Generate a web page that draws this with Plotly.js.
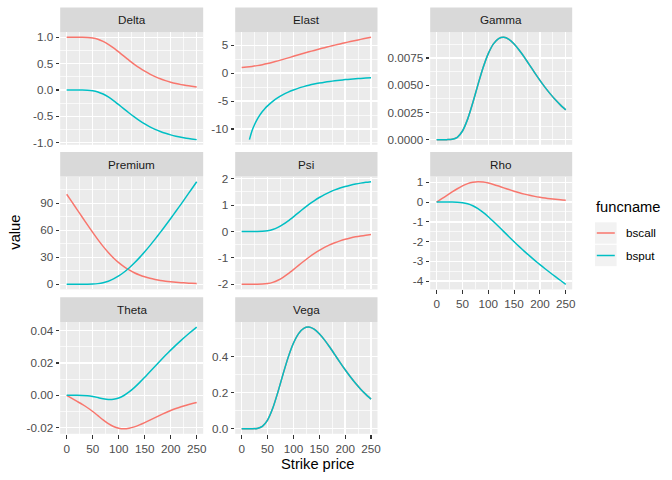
<!DOCTYPE html>
<html>
<head>
<meta charset="utf-8">
<script src="https://cdn.plot.ly/plotly-3.0.1.min.js"></script>
<style>html,body{margin:0;padding:0;background:#fff;}#chart{width:672px;height:480px;}</style>
</head>
<body>
<div id="chart"></div>
<script>
// ---------------- data ----------------
const strike = [0,10,20,30,40,50,60,70,80,90,100,110,120,130,140,150,160,170,180,190,200,210,220,230,240,250];
const seriesNames = ['bscall','bsput'];

const deltaCall = [1.0000,1.0000,1.0000,0.9997,0.9970,0.9869,0.9635,0.9236,0.8676,0.7989,0.7221,0.6423,0.5634,0.4884,0.4192,0.3570,0.3020,0.2542,0.2130,0.1778,0.1482,0.1232,0.1022,0.0847,0.0702,0.0582];
const deltaPut  = [0.0000,0.0000,0.0000,-0.0003,-0.0030,-0.0131,-0.0365,-0.0764,-0.1324,-0.2011,-0.2779,-0.3577,-0.4366,-0.5116,-0.5808,-0.6430,-0.6980,-0.7458,-0.7870,-0.8222,-0.8518,-0.8768,-0.8978,-0.9153,-0.9298,-0.9418];

const elastCall = [1.000,1.093,1.205,1.343,1.512,1.713,1.943,2.194,2.459,2.731,3.006,3.277,3.546,3.810,4.062,4.314,4.555,4.788,5.013,5.232,5.443,5.650,5.848,6.040,6.227,6.410];
const elastPutStrike = [15,20,25,30,35,40,45,50,60,70,80,90,100,110,120,130,140,150,160,170,180,190,200,210,220,230,240,250];
const elastPut = [-11.9,-10.32,-9.19,-8.28,-7.53,-6.88,-6.32,-5.85,-5.04,-4.38,-3.84,-3.39,-3.01,-2.68,-2.41,-2.17,-1.96,-1.78,-1.62,-1.49,-1.37,-1.26,-1.16,-1.08,-1.01,-0.94,-0.88,-0.83];

const gammaCall = [0,0.0000000,0.0000006,0.0000265,0.000215,0.000794,0.001884,0.003382,0.005051,0.006620,0.007902,0.008798,0.009283,0.009399,0.009208,0.008791,0.008218,0.007556,0.006849,0.006137,0.005449,0.004801,0.004202,0.003660,0.003172,0.002739];
const gammaPut  = [0,0.0000000,0.0000006,0.0000265,0.000215,0.000794,0.001884,0.003382,0.005051,0.006620,0.007902,0.008798,0.009283,0.009399,0.009208,0.008791,0.008218,0.007556,0.006849,0.006137,0.005449,0.004801,0.004202,0.003660,0.003172,0.002739];

const premiumCall = [100.00,91.48,82.96,74.44,65.96,57.62,49.60,42.09,35.28,29.25,24.02,19.60,15.89,12.82,10.32,8.28,6.63,5.31,4.25,3.40,2.72,2.18,1.75,1.40,1.13,0.91];
const premiumPut  = [0.00,0.00,0.00,0.00,0.04,0.22,0.72,1.74,3.45,5.94,9.24,13.33,18.14,23.60,29.61,36.10,42.97,50.17,57.63,65.31,73.15,81.13,89.12,97.40,105.64,113.94];

const psiCall = [-2.0000,-2.0000,-2.0000,-1.9994,-1.9940,-1.9738,-1.9270,-1.8473,-1.7352,-1.5977,-1.4443,-1.2846,-1.1267,-0.9767,-0.8385,-0.7140,-0.6041,-0.5083,-0.4259,-0.3557,-0.2963,-0.2462,-0.2044,-0.1695,-0.1404,-0.1163];
const psiPut  = [0.0000,0.0000,0.0000,0.0006,0.0060,0.0262,0.0730,0.1527,0.2648,0.4023,0.5557,0.7154,0.8733,1.0233,1.1615,1.2860,1.3959,1.4917,1.5741,1.6443,1.7037,1.7538,1.7956,1.8305,1.8596,1.8837];

const rhoCall = [0,0.1704,0.3408,0.5106,0.6748,0.8214,0.9351,1.0054,1.0297,1.0128,0.9637,0.8927,0.8091,0.7203,0.6321,0.5484,0.4714,0.4022,0.3410,0.2877,0.2419,0.2027,0.1694,0.1414,0.1178,0.0982];
const rhoPut  = [0,0.0000,0.0000,-0.0007,-0.0068,-0.0307,-0.0874,-0.1875,-0.3337,-0.5210,-0.7405,-0.9819,-1.2359,-1.4952,-1.7538,-2.0079,-2.2553,-2.4949,-2.7266,-2.9503,-3.1665,-3.3761,-3.5798,-3.7783,-3.9723,-4.1623];

const thetaCall = [0,-0.001868,-0.003735,-0.005628,-0.007660,-0.009981,-0.012571,-0.015188,-0.017511,-0.019262,-0.020305,-0.020631,-0.020313,-0.019482,-0.018281,-0.016850,-0.015300,-0.013724,-0.012182,-0.010720,-0.009370,-0.008141,-0.007038,-0.006063,-0.005203,-0.004453];
const thetaPut  = [0,0.000000,0.000000,-0.000025,-0.000190,-0.000643,-0.001365,-0.002115,-0.002570,-0.002454,-0.001629,-0.000087,0.002098,0.004797,0.007865,0.011164,0.014582,0.018025,0.021435,0.024764,0.027982,0.031079,0.034049,0.036892,0.039619,0.042237];

const vegaCall = [0,0.0000,0.00004,0.00159,0.01288,0.04767,0.1131,0.2029,0.3031,0.3973,0.4742,0.5279,0.5571,0.5640,0.5525,0.5275,0.4931,0.4534,0.4110,0.3683,0.3270,0.2881,0.2522,0.2196,0.1904,0.1643];
const vegaPut  = [0,0.0000,0.00004,0.00159,0.01288,0.04767,0.1131,0.2029,0.3031,0.3973,0.4742,0.5279,0.5571,0.5640,0.5525,0.5275,0.4931,0.4534,0.4110,0.3683,0.3270,0.2881,0.2522,0.2196,0.1904,0.1643];

// tick labels
const strikeTicks  = [0,50,100,150,200,250];
const deltaTicks   = [-1,-0.5,0,0.5,1];
const elastTicks   = [-10,-5,0,5];
const gammaTicks   = [0,0.0025,0.005,0.0075];
const premiumTicks = [0,30,60,90];
const psiTicks     = [-2,-1,0,1,2];
const rhoTicks     = [-4,-3,-2,-1,0,1];
const thetaTicks   = [-0.02,0,0.02,0.04];
const vegaTicks    = [0,0.2,0.4];

// ---------------- styling / layout ----------------
const W = 672, H = 480;
const COLORS = ['#F8766D','#00BFC4'];
const FONT = 'Liberation Sans, Arial, Helvetica, sans-serif';
const cols = [[60.2,203.2],[235.2,377.5],[430.2,572.2]];
const rows = [[32.2,144.75],[176.6,289.4],[322.0,433.8]];
const STRIP_H = 24.7;
const fx = p => p / W;
const fy = p => 1 - p / H;

const panels = [
  {name:'Delta',   r:0, c:0, data:[[strike,deltaCall],[strike,deltaPut]],         ticks:deltaTicks,   dec:1, xlab:false},
  {name:'Elast',   r:0, c:1, data:[[strike,elastCall],[elastPutStrike,elastPut]], ticks:elastTicks,   dec:0, xlab:false},
  {name:'Gamma',   r:0, c:2, data:[[strike,gammaCall],[strike,gammaPut]],         ticks:gammaTicks,   dec:4, xlab:false},
  {name:'Premium', r:1, c:0, data:[[strike,premiumCall],[strike,premiumPut]],     ticks:premiumTicks, dec:0, xlab:false},
  {name:'Psi',     r:1, c:1, data:[[strike,psiCall],[strike,psiPut]],             ticks:psiTicks,     dec:0, xlab:false},
  {name:'Rho',     r:1, c:2, data:[[strike,rhoCall],[strike,rhoPut]],             ticks:rhoTicks,     dec:0, xlab:true},
  {name:'Theta',   r:2, c:0, data:[[strike,thetaCall],[strike,thetaPut]],         ticks:thetaTicks,   dec:2, xlab:true},
  {name:'Vega',    r:2, c:1, data:[[strike,vegaCall],[strike,vegaPut]],           ticks:vegaTicks,    dec:1, xlab:true}
];

function minorOf(t) {
  const step = t[1] - t[0];
  const out = [t[0] - step/2];
  for (let i = 0; i < t.length - 1; i++) out.push((t[i] + t[i+1]) / 2);
  out.push(t[t.length-1] + step/2);
  return out;
}
function expand(vals) {
  const mn = Math.min(...vals), mx = Math.max(...vals);
  const pad = (mx - mn) * 0.05;
  return [mn - pad, mx + pad];
}

const xr = expand(strike);
const traces = [];
const layout = {
  width: W, height: H,
  margin: {l:0, r:0, t:0, b:0, pad:0},
  paper_bgcolor: '#FFFFFF',
  plot_bgcolor: '#EBEBEB',
  showlegend: false,
  font: {family: FONT, color: '#4D4D4D', size: 11.7},
  shapes: [], annotations: []
};

panels.forEach((p, i) => {
  const n = i + 1;
  const xid = 'x' + (n === 1 ? '' : n), yid = 'y' + (n === 1 ? '' : n);
  const xk = 'xaxis' + (n === 1 ? '' : n), yk = 'yaxis' + (n === 1 ? '' : n);
  const allY = [];
  p.data.forEach((s, k) => {
    allY.push(...s[1]);
    traces.push({
      x: s[0], y: s[1], type: 'scatter', mode: 'lines', name: seriesNames[k],
      xaxis: xid, yaxis: yid, hoverinfo: 'skip',
      line: {color: COLORS[k], width: 1.5, shape: 'spline', smoothing: 0.6}
    });
  });
  const col = cols[p.c], row = rows[p.r];
  layout[xk] = {
    domain: [fx(col[0]), fx(col[1])], anchor: yid, range: xr,
    tickmode: 'array', tickvals: strikeTicks, ticktext: strikeTicks.map(v => v.toFixed(0)),
    showticklabels: p.xlab, ticks: p.xlab ? 'outside' : '', ticklen: 3.7, tickwidth: 1.1, tickcolor: '#333333',
    tickfont: {family: FONT, size: 11.7, color: '#4D4D4D'},
    showgrid: true, gridcolor: '#FFFFFF', gridwidth: 1.4,
    minor: {tickmode: 'array', tickvals: minorOf(strikeTicks), showgrid: true, gridcolor: '#FFFFFF', gridwidth: 0.7, ticks: ''},
    zeroline: false, showline: false, fixedrange: true
  };
  layout[yk] = {
    domain: [fy(row[1]), fy(row[0])], anchor: xid, range: expand(allY),
    tickmode: 'array', tickvals: p.ticks, ticktext: p.ticks.map(v => v.toFixed(p.dec)),
    ticks: 'outside', ticklen: 3.7, tickwidth: 1.1, tickcolor: '#333333',
    tickfont: {family: FONT, size: 11.7, color: '#4D4D4D'},
    showgrid: true, gridcolor: '#FFFFFF', gridwidth: 1.4,
    minor: {tickmode: 'array', tickvals: minorOf(p.ticks), showgrid: true, gridcolor: '#FFFFFF', gridwidth: 0.7, ticks: ''},
    zeroline: false, showline: false, fixedrange: true
  };
  // strip
  layout.shapes.push({type:'rect', xref:'paper', yref:'paper', layer:'below',
    x0: fx(col[0]), x1: fx(col[1]), y0: fy(row[0]), y1: fy(row[0] - STRIP_H),
    fillcolor: '#D9D9D9', line: {width: 0}});
  layout.annotations.push({xref:'paper', yref:'paper', x: fx((col[0]+col[1])/2), y: fy(row[0] - STRIP_H/2),
    text: p.name, showarrow: false, xanchor: 'center', yanchor: 'middle',
    font: {family: FONT, size: 11.7, color: '#1A1A1A'}});
});

// axis titles
layout.annotations.push({xref:'paper', yref:'paper', x: fx(317), y: fy(464), text: 'Strike price',
  showarrow:false, xanchor:'center', yanchor:'middle', font:{family:FONT, size:14.7, color:'#000000'}});
layout.annotations.push({xref:'paper', yref:'paper', x: fx(14.7), y: fy(232), text: 'value', textangle: -90,
  showarrow:false, xanchor:'center', yanchor:'middle', font:{family:FONT, size:14.7, color:'#000000'}});

// legend (drawn)
layout.annotations.push({xref:'paper', yref:'paper', x: fx(594), y: fy(207), text: 'funcname',
  showarrow:false, xanchor:'left', yanchor:'middle', font:{family:FONT, size:14.7, color:'#000000'}});
const keyTop = [222.3, 244.8];
seriesNames.forEach((s, k) => {
  const t = keyTop[k], mid = t + 10.7;
  layout.shapes.push({type:'rect', xref:'paper', yref:'paper', x0: fx(595), x1: fx(616.6), y0: fy(t + 21.4), y1: fy(t),
    fillcolor:'#F2F2F2', line:{width:0}});
  layout.shapes.push({type:'line', xref:'paper', yref:'paper', x0: fx(596.8), x1: fx(614.8), y0: fy(mid), y1: fy(mid),
    line:{color: COLORS[k], width: 1.5}});
  layout.annotations.push({xref:'paper', yref:'paper', x: fx(624), y: fy(mid), text: s,
    showarrow:false, xanchor:'left', yanchor:'middle', font:{family:FONT, size:11.7, color:'#000000'}});
});

Plotly.newPlot('chart', traces, layout, {staticPlot: true, displayModeBar: false});
</script>
</body>
</html>
